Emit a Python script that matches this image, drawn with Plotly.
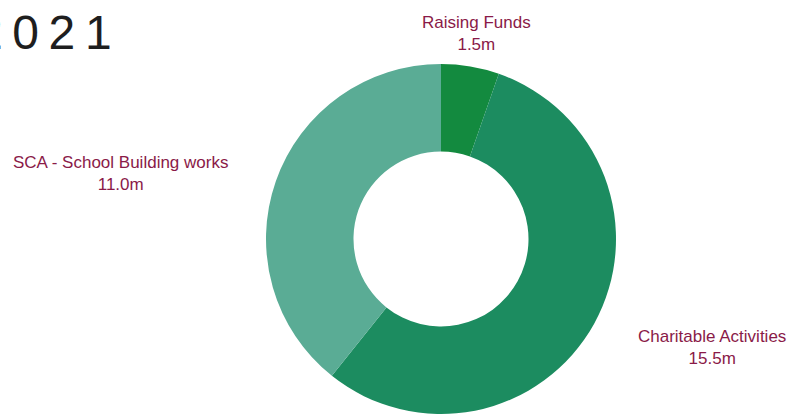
import plotly.graph_objects as go

# Expenditure breakdown, 2021 (in £m)
categories = ["Raising Funds", "Charitable Activities", "SCA - School Building works"]
values = [1.5, 15.5, 11.0]
value_labels = ["1.5m", "15.5m", "11.0m"]
colors = ["#138a3f", "#1c8c60", "#5aac95"]
title_text = "2021"

W, H = 802, 414
LABEL_FONT = dict(family="Liberation Sans, Arial, sans-serif", size=17, color="#8a1a48")


def px_x(x):
    return x / W


def px_y(y):
    return 1 - y / H


fig = go.Figure(
    go.Pie(
        labels=categories,
        values=values,
        hole=0.5,
        sort=False,
        direction="clockwise",
        rotation=0,
        marker=dict(colors=colors, line=dict(width=0)),
        textinfo="none",
        hoverinfo="label+value",
        showlegend=False,
        domain=dict(x=[px_x(441) - 0.25, px_x(441) + 0.25], y=[0, px_y(64)]),
    )
)

# Slice labels: name on the first line, amount underneath
label_pos = {
    "Raising Funds": (476, 33),
    "Charitable Activities": (712, 347),
    "SCA - School Building works": (120, 173),
}
annotations = []
for name, amount in zip(categories, value_labels):
    cx, cy = label_pos[name]
    annotations.append(
        dict(
            text=f"{name}<br>{amount}",
            x=px_x(cx), y=px_y(cy), xref="paper", yref="paper",
            xanchor="center", yanchor="middle", showarrow=False,
            align="center", font=LABEL_FONT,
        )
    )

# Year heading, letter-spaced; it starts just past the left edge of the page
annotations.append(
    dict(
        text="\u2009".join(title_text),
        x=px_x(-26), y=px_y(32), xref="paper", yref="paper",
        xanchor="left", yanchor="middle", showarrow=False,
        font=dict(family="Liberation Sans, Arial, sans-serif", size=48, color="#1e1e1e"),
    )
)

fig.update_layout(
    width=W, height=H,
    margin=dict(l=0, r=0, t=0, b=0),
    paper_bgcolor="white", plot_bgcolor="white",
    annotations=annotations,
)

fig.write_html("out.html")
